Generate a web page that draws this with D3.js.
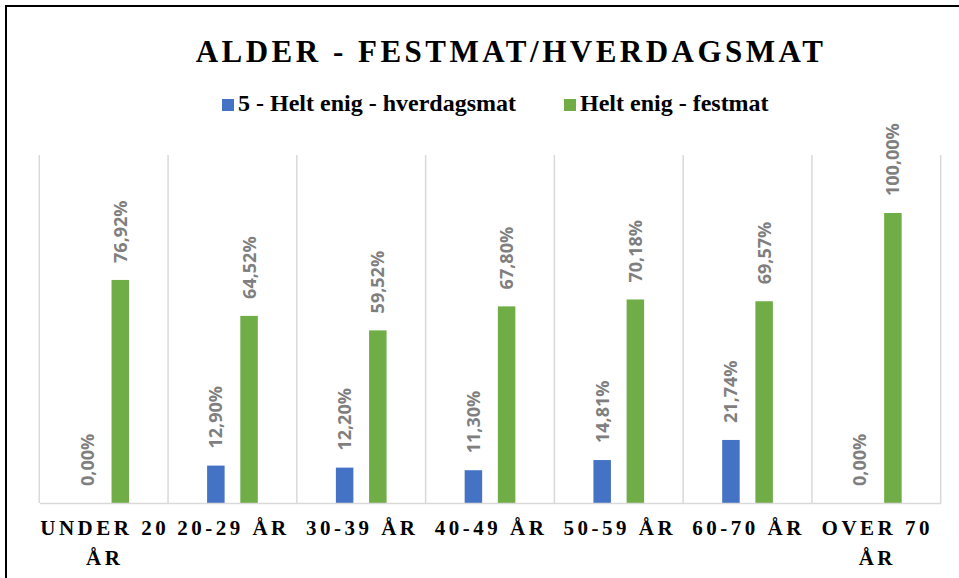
<!DOCTYPE html>
<html>
<head>
<meta charset="utf-8">
<script src="https://cdn.jsdelivr.net/npm/d3@7"></script>
<style>
  body { margin: 0; background: #fff; }
  svg { display: block; }
</style>
</head>
<body>
<div class="graph"></div>
<script>
// values
const categories = ['UNDER 20\nÅR', '20-29 ÅR', '30-39 ÅR', '40-49 ÅR', '50-59 ÅR', '60-70 ÅR', 'OVER 70\nÅR'];
const seriesNames = ['5 - Helt enig - hverdagsmat', 'Helt enig - festmat'];
const hverdagsmat = [0, 12.90, 12.20, 11.30, 14.81, 21.74, 0];
const festmat = [76.92, 64.52, 59.52, 67.80, 70.18, 69.57, 100];
const colors = ['#4472c4', '#70ad47'];

const svgDim = { w: 959, h: 578 };
const plot = { left: 39.3, right: 940.7, top: 155, bottom: 503 };

const svg = d3.select('.graph').append('svg')
    .attr('width', svgDim.w).attr('height', svgDim.h);

// outer frame (cut off on right and bottom like the screenshot)
svg.append('rect')
    .attr('x', 6).attr('y', 6)
    .attr('width', 1000).attr('height', 700)
    .attr('fill', 'none').attr('stroke', '#000').attr('stroke-width', 2);

const data = categories.map((c, i) => ({ cat: c, values: [hverdagsmat[i], festmat[i]] }));

const x0 = d3.scaleBand()
    .domain(categories)
    .range([plot.left, plot.right])
    .padding(0);

const x1 = d3.scaleBand()
    .domain([0, 1])
    .range([0, x0.bandwidth()])
    .paddingInner(0.473)
    .paddingOuter(1.176);

const yScale = d3.scaleLinear()
    .domain([0, 120])
    .range([plot.bottom, plot.top]);

// vertical category gridlines
const gridX = categories.map(c => x0(c)).concat([plot.right]);
svg.append('g').selectAll('line').data(gridX).join('line')
    .attr('x1', d => d).attr('x2', d => d)
    .attr('y1', yScale(120)).attr('y2', yScale(0))
    .attr('stroke', '#d9d9d9').attr('stroke-width', 1.5);

// bars
const groups = svg.append('g').selectAll('g').data(data).join('g')
    .attr('transform', d => `translate(${x0(d.cat)},0)`);

groups.selectAll('rect').data(d => d.values.map((v, i) => ({ v, i }))).join('rect')
    .attr('x', d => x1(d.i))
    .attr('width', x1.bandwidth())
    .attr('y', d => yScale(d.v))
    .attr('height', d => yScale(0) - yScale(d.v))
    .attr('fill', d => colors[d.i]);

// rotated value labels
groups.selectAll('text').data(d => d.values.map((v, i) => ({ v, i }))).join('text')
    .attr('transform', d => `translate(${x1(d.i) + x1.bandwidth() / 2},${yScale(d.v) - 17}) rotate(-90)`)
    .attr('dy', '0.36em')
    .attr('text-anchor', 'start')
    .style('font-family', '"Open Sans", sans-serif')
    .style('font-weight', 700)
    .style('font-size', '18px')
    .style('fill', '#7f7f7f')
    .text(d => d.v.toFixed(2).replace('.', ',') + '%');

// x axis
const xAxis = d3.axisBottom(x0).tickSize(0).tickFormat('');
const gx = svg.append('g')
    .attr('transform', `translate(0,${plot.bottom})`)
    .call(xAxis);
gx.select('.domain').attr('stroke', '#d9d9d9').attr('stroke-width', 1.5);

gx.selectAll('.tick').append('text')
    .attr('text-anchor', 'middle')
    .style('font-family', '"Liberation Serif", "Times New Roman", serif')
    .style('font-weight', 700)
    .style('font-size', '21px')
    .style('letter-spacing', '3.5px')
    .style('fill', '#000')
    .selectAll('tspan')
    .data(d => d.split('\n'))
    .join('tspan')
    .attr('x', 1)
    .attr('y', (d, i) => 32 + i * 30)
    .text(d => d);

// title
svg.append('text')
    .attr('x', 511).attr('y', 62)
    .attr('text-anchor', 'middle')
    .style('font-family', '"Liberation Serif", "Times New Roman", serif')
    .style('font-weight', 700)
    .style('font-size', '31px')
    .style('letter-spacing', '3.5px')
    .text('ALDER - FESTMAT/HVERDAGSMAT');

// legend
const legendX = [222, 564];
const legend = svg.append('g').selectAll('g').data(seriesNames).join('g')
    .attr('transform', (d, i) => `translate(${legendX[i]},111)`);
legend.append('rect')
    .attr('x', 0).attr('y', -12)
    .attr('width', 12).attr('height', 12)
    .attr('fill', (d, i) => colors[i]);
legend.append('text')
    .attr('x', 16).attr('y', 0)
    .style('font-family', '"Liberation Serif", "Times New Roman", serif')
    .style('font-weight', 700)
    .style('font-size', '24px')
    .text(d => d);
</script>
</body>
</html>
